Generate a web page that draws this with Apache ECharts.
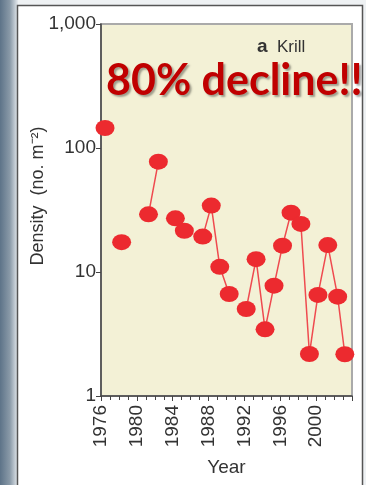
<!DOCTYPE html>
<html>
<head>
<meta charset="utf-8">
<script src="https://cdn.jsdelivr.net/npm/echarts@6/dist/echarts.min.js"></script>
<style>
html,body{margin:0;padding:0;background:#fff;}
#c{width:366px;height:485px;}
</style>
</head>
<body>
<div id="c"></div>
<script>
// Season year (as positioned on the time axis) and krill density (no. m^-2)
var years = [1976.45, 1978.3, 1981.3, 1982.4, 1984.3, 1985.3, 1987.35, 1988.3, 1989.25, 1990.3,
             1992.2, 1993.3, 1994.3, 1995.3, 1996.25, 1997.2, 1998.3, 1999.25, 2000.2, 2001.3, 2002.4, 2003.2];
var density = [145, 17.4, 29.2, 77.6, 27.1, 21.5, 19.3, 34.3, 11.0, 6.65,
               5.03, 12.7, 3.45, 7.76, 16.3, 30.1, 24.4, 2.18, 6.53, 16.5, 6.32, 2.17];
var xTickLabels = ['1976', '1980', '1984', '1988', '1992', '1996', '2000'];
var yTickLabels = {1: '1', 10: '10', 100: '100', 1000: '1,000'};
var panelLabel = 'a';
var speciesLabel = 'Krill';
var headline = '80% decline!!';
var xName = 'Year';
var yName = 'Density  (no. m\u207B\u00B2)';

// build line data; break the line where survey years are missing
var lineData = [];
for (var i = 0; i < years.length; i++) {
  if (i > 0 && years[i] - years[i - 1] > 1.5) {
    lineData.push([(years[i] + years[i - 1]) / 2, '-']);
  }
  lineData.push([years[i], density[i]]);
}
var pointData = years.map(function (y, i) { return [y, density[i]]; });

var chart = echarts.init(document.getElementById('c'), null, {renderer: 'canvas'});
var FONT = '"Liberation Sans", Arial, Helvetica, sans-serif';
chart.setOption({
  animation: false,
  backgroundColor: '#ffffff',
  grid: {
    left: 101, right: 14, top: 24, bottom: 89,
    show: true, backgroundColor: '#f3f1d6', borderColor: '#aaaaaa', borderWidth: 2
  },
  xAxis: {
    type: 'value', min: 1976, max: 2004, interval: 4,
    axisLine: {show: true, lineStyle: {color: '#444', width: 1.5}},
    axisTick: {show: true, length: 5, lineStyle: {color: '#444', width: 1}},
    minorTick: {show: true, splitNumber: 4, length: 4, lineStyle: {color: '#444', width: 1}},
    splitLine: {show: false},
    axisLabel: {
      rotate: 90, margin: 9, fontSize: 19, fontFamily: FONT, color: '#333',
      formatter: function (v) {
        var s = String(Math.round(v));
        return xTickLabels.indexOf(s) >= 0 ? s : '';
      }
    },
    name: xName, nameLocation: 'middle', nameGap: 62,
    nameTextStyle: {fontSize: 19, fontFamily: FONT, color: '#333'}
  },
  yAxis: {
    type: 'log', logBase: 10, min: 1, max: 1000,
    axisLine: {show: true, lineStyle: {color: '#444', width: 1.5}},
    axisTick: {show: true, length: 5, lineStyle: {color: '#444', width: 1}},
    splitLine: {show: false},
    axisLabel: {
      margin: 5, fontSize: 19, fontFamily: FONT, color: '#333',
      formatter: function (v) { return yTickLabels[Math.round(v)] || ''; }
    }
  },
  graphic: [
    {type: 'rect', z: -10, silent: true, shape: {x: 0, y: 0, width: 366, height: 485},
     style: {fill: '#eef1f3'}},
    {type: 'rect', z: -9, silent: true, shape: {x: 0, y: 0, width: 18, height: 485},
     style: {fill: new echarts.graphic.LinearGradient(0, 0, 1, 0, [
       {offset: 0, color: '#5d7388'}, {offset: 0.55, color: '#8a9aa8'}, {offset: 1, color: '#e6eaee'}])}},
    {type: 'rect', z: -8, silent: true, shape: {x: 17.5, y: 5.5, width: 345, height: 500},
     style: {fill: '#ffffff', stroke: '#555', lineWidth: 1.5}},
    {type: 'text', z: 20, silent: true, x: 38, y: 196, rotation: Math.PI / 2,
     style: {text: yName, fontSize: 18, fontFamily: FONT, fill: '#333', align: 'center', verticalAlign: 'middle'}},
    {type: 'text', z: 20, silent: true, x: 257, y: 47,
     style: {text: '{b|' + panelLabel + '}  ' + speciesLabel, fontSize: 17, fontFamily: FONT, fill: '#333',
       verticalAlign: 'middle',
       rich: {b: {fontSize: 19, fontWeight: 'bold', fontFamily: FONT, fill: '#333'}}}},
    {type: 'text', z: 30, silent: true, x: 106, y: 81,
     style: {text: headline, fontSize: 43, fontWeight: 'bold', fontFamily: 'Lato, "Open Sans", sans-serif',
       fill: '#c00000', verticalAlign: 'middle',
       textShadowColor: 'rgba(0,0,0,0.35)', textShadowBlur: 2, textShadowOffsetX: 2, textShadowOffsetY: 2}}
  ],
  series: [
    {type: 'line', data: lineData, connectNulls: false, showSymbol: false, symbol: 'none',
     lineStyle: {color: '#ef4a4f', width: 1.5}, z: 2},
    {type: 'scatter', data: pointData, symbol: 'circle', symbolSize: [19, 16],
     itemStyle: {color: '#ec2a2f', opacity: 1}, z: 3}
  ]
});
</script>
</body>
</html>
